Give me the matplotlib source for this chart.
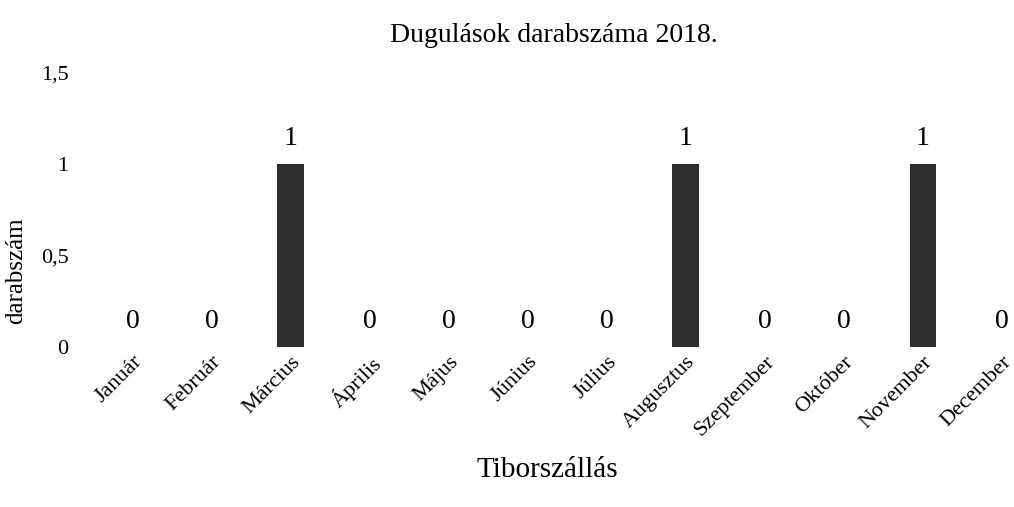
import matplotlib
matplotlib.use("Agg")
import matplotlib.pyplot as plt

# data
honapok = ["Január", "Február", "Március", "Április", "Május", "Június",
           "Július", "Augusztus", "Szeptember", "Október", "November", "December"]
darab = [0, 0, 1, 0, 0, 0, 0, 1, 0, 0, 1, 0]
y_ticks = [0, 0.5, 1, 1.5]
y_tick_labels = ["0", "0,5", "1", "1,5"]

plt.rcParams['font.family'] = ['Liberation Serif', 'DejaVu Serif']

fig = plt.figure(figsize=(10.14, 5.07), dpi=100)
ax = fig.add_axes([0.084, 0.316, 0.912, 0.54])

x = list(range(len(honapok)))
ax.bar(x, darab, width=0.34, color='#2e2e2e', linewidth=0)

# value labels above the bars
for xi, v in zip(x, darab):
    ax.text(xi, v + 0.07, str(v), ha='center', va='bottom', fontsize=20)

ax.set_xlim(-0.6, 11.1)
ax.set_ylim(0, 1.5)
ax.set_yticks(y_ticks)
ax.set_yticklabels(y_tick_labels, fontsize=16)
ax.set_xticks(x)
ax.set_xticklabels(honapok, rotation=45, ha='right', rotation_mode='anchor', fontsize=16)
ax.tick_params(axis='both', length=0)
ax.tick_params(axis='y', pad=12)
ax.tick_params(axis='x', pad=4)

for s in ax.spines.values():
    s.set_visible(False)

fig.text(0.016, 0.467, "darabszám", rotation=90, ha='center', va='center', fontsize=18)
ax.set_xlabel("Tiborszállás", fontsize=21, labelpad=12)
fig.text(0.546, 0.93, "Dugulások darabszáma 2018.", ha='center', va='center', fontsize=20)

fig.savefig("out.png", dpi=100)
